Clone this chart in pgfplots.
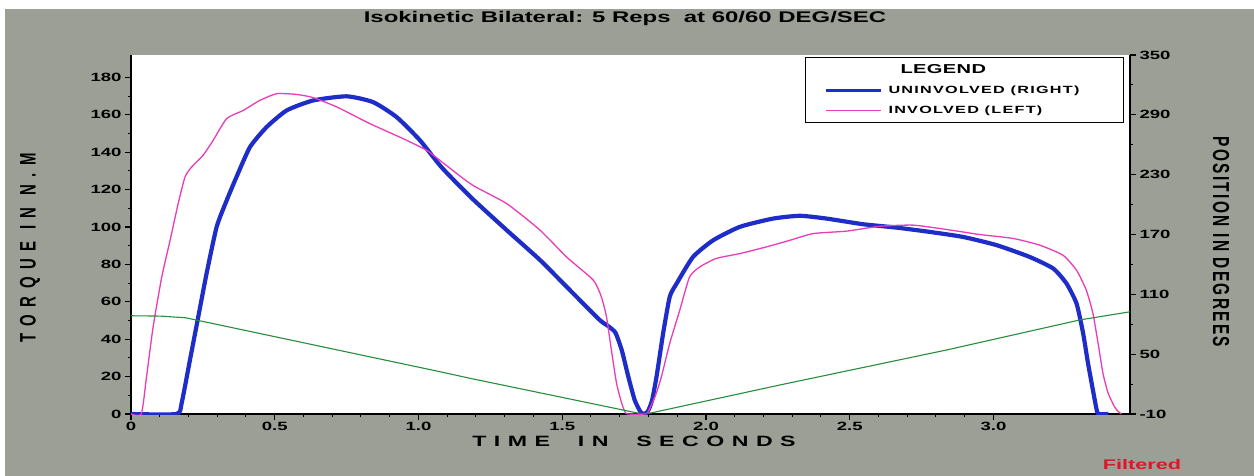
\documentclass[border=0pt]{standalone}
\usepackage{pgfplots}
\pgfplotsset{compat=1.18}
\usepackage{fontspec}
\setmainfont{Liberation Sans}
\newfontfamily\W[FakeStretch=1.55]{Liberation Sans}
\definecolor{bgc}{RGB}{156,159,149}
\definecolor{blueC}{RGB}{30,45,200}
\definecolor{pinkC}{RGB}{232,60,185}
\definecolor{greenC}{RGB}{40,140,60}
\definecolor{redC}{RGB}{215,25,40}
\begin{document}
\begin{tikzpicture}
\path[use as bounding box] (-131bp,-62bp) rectangle (1123bp,414bp);
\fill[white] (-131bp,-62bp) rectangle (1123bp,414bp);
\fill[bgc] (-126bp,-62bp) rectangle (1123bp,405bp);
\begin{axis}[
  at={(0,0)}, anchor=south west,
  scale only axis, width=999bp, height=359bp,
  xmin=0, xmax=3.475, ymin=0, ymax=192,
  axis x line*=bottom, axis y line*=left,
  axis line style={line width=1.6bp},
  axis background/.style={fill=white},
  tick align=outside,
  major tick length=6bp, minor tick length=3bp,
  major tick style={line width=1.2bp, black},
  minor tick style={line width=1bp, black},
  xtick={0,0.5,1,1.5,2,2.5,3},
  xticklabels={0,0.5,1.0,1.5,2.0,2.5,3.0},
  minor x tick num=4,
  ytick={0,20,...,180},
  yticklabels={0,20,40,60,80,100,120,140,160,180},
  minor y tick num=1,
  tick label style={font=\W\bfseries\fontsize{12}{12}\selectfont},
  xticklabel style={yshift=1bp},
  legend style={at={(rel axis cs:0.994,0.994)}, anchor=north east,
    draw=black, line width=1bp, fill=white,
    font=\W\bfseries\fontsize{10.5}{11}\selectfont\addfontfeature{LetterSpace=12},
    row sep=7bp, inner sep=5bp},
  legend cell align=left,
  legend image code/.code={\draw[#1] (16bp,0bp) -- (71bp,0bp); \path (75bp,0bp);},
]
\addlegendimage{empty legend}
\addlegendentry{\hspace*{12bp}{\fontsize{13}{13}\selectfont\addfontfeature{LetterSpace=3} LEGEND}}
\addlegendimage{blueC, line width=2.6bp}
\addlegendentry{\makebox[228bp][l]{UNINVOLVED (RIGHT)}}
\addlegendimage{pinkC, line width=1.4bp}
\addlegendentry{INVOLVED (LEFT)}
\addplot[blueC, line width=4.2bp, line join=round, smooth, tension=0.35, forget plot] coordinates {
(0,0) (0.158,0) (0.176,5.7) (0.205,28.8) (0.234,52.0) (0.263,75.2) (0.298,100.1)
(0.333,114.3) (0.367,126.8) (0.414,142.8) (0.472,153.5) (0.542,162.4) (0.634,167.7)
(0.750,169.9) (0.842,166.8) (0.924,158.8) (1.005,146.4) (1.080,132.0)
(1.185,115.5) (1.307,98.3) (1.423,82.3) (1.538,64.5) (1.631,50.2) (1.660,47.0)
(1.685,43.5) (1.707,34.2) (1.730,19.9) (1.752,7.5) (1.772,1.2) (1.785,0)
(1.798,1.5) (1.812,7.0) (1.828,19.9) (1.851,43.1) (1.874,62.7) (1.898,69.8)
(1.955,84.0) (2.025,92.9) (2.118,100.1) (2.233,104.5) (2.327,106) (2.420,104.5)
(2.546,101.5) (2.662,99.7) (2.778,97.4) (2.894,94.7) (3.011,90.3) (3.126,84.0)
(3.208,77.8) (3.254,69.8) (3.289,59.1) (3.312,43.1) (3.329,27.1) (3.346,12.8)
(3.358,3.0) (3.365,0) (3.40,0)
};
\addplot[pinkC, line width=1.3bp, line join=round, smooth, tension=0.35, forget plot] coordinates {
(0,0) (0.036,0) (0.054,19.9) (0.077,46.6) (0.107,73.3) (0.136,92.9) (0.164,112.5)
(0.188,126.8) (0.211,132.1) (0.251,138.4) (0.286,146.4) (0.333,158.0) (0.391,162.4)
(0.448,167.7) (0.507,171.3) (0.576,170.9) (0.634,169.2) (0.716,164.2) (0.831,155.3)
(0.946,147.3) (1.029,141.0) (1.074,135.7) (1.185,122.7) (1.307,112.5) (1.423,98.3)
(1.515,84.0) (1.608,71.6) (1.636,62.7) (1.654,52.0) (1.671,34.2) (1.689,16.4)
(1.707,5.7) (1.718,1.2) (1.728,0) (1.790,0) (1.799,1.2) (1.823,9.3) (1.845,19.9)
(1.874,37.8) (1.909,55.6) (1.943,73.3) (1.979,78.7) (2.036,83.2) (2.118,85.8)
(2.211,89.4) (2.292,92.9) (2.373,96.5) (2.489,97.8) (2.605,100.4) (2.721,101.0)
(2.836,98.7) (2.952,96.0) (3.068,93.9) (3.161,90.3) (3.242,84.9) (3.289,76.9)
(3.323,66.2) (3.346,53.8) (3.364,37.8) (3.381,21.7) (3.399,11.1) (3.421,3.9)
(3.433,1.5) (3.445,0)
};
\end{axis}
\begin{axis}[
  at={(0,0)}, anchor=south west,
  scale only axis, width=999bp, height=359bp,
  xmin=0, xmax=3.475, ymin=-10, ymax=350,
  axis x line=none, axis y line*=right,
  axis line style={line width=1.8bp},
  tick align=outside,
  major tick length=6bp, minor tick length=3bp,
  major tick style={line width=1.2bp, black},
  minor tick style={line width=1bp, black},
  ytick={-10,50,110,170,230,290,350},
  yticklabels={-10,50,110,170,230,290,350},
  minor y tick num=1,
  tick label style={font=\W\bfseries\fontsize{12}{12}\selectfont},
]
\addplot[greenC, line width=1.1bp] coordinates {
(0,88.5) (0.10,88.2) (0.19,86.5) (1.075,32.4) (1.179,25.8) (1.77,-9.5) (1.80,-9.5)
(2.257,19.1) (2.837,54.2) (3.30,84.3) (3.40,89.0) (3.475,92.5)
};
\end{axis}
\node[font=\W\bfseries\fontsize{15.5}{16}\selectfont] at (494bp,395bp)
  {Isokinetic Bilateral: 5 Reps\ \ at 60/60 DEG/SEC};
\node[font=\W\bfseries\fontsize{15}{16}\selectfont\addfontfeature{LetterSpace=50}] at (503bp,-27bp)
  {TIME\ \ IN\ \ SECONDS};
\node[rotate=90, font=\bfseries\fontsize{15}{16}\selectfont\addfontfeature{LetterSpace=50}] at (-101bp,166bp)
  {\scalebox{1}[1.5]{TORQUE IN N.M}};
\node[rotate=-90, font=\bfseries\fontsize{15.5}{16}\selectfont\addfontfeature{LetterSpace=15}] at (1090bp,172bp)
  {\scalebox{1}[1.5]{POSITION IN DEGREES}};
\node[text=redC, font=\W\bfseries\fontsize{14}{15}\selectfont] at (1011bp,-51bp) {Filtered};
\end{tikzpicture}
\end{document}
